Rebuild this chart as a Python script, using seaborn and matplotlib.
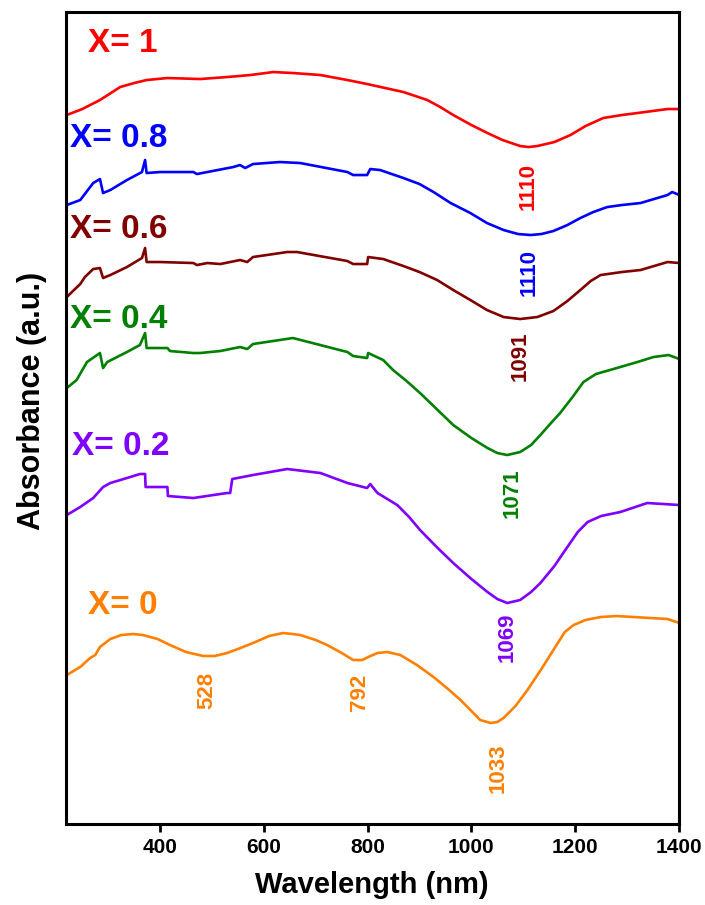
import pandas as pd
import matplotlib
matplotlib.use("Agg")
from matplotlib import pyplot as plt
import seaborn as sns

# Absorbance spectra (arbitrary, stacked units)
wl_x1 = [220, 250, 284, 323, 350, 374, 414, 477, 529, 574, 618, 656, 709, 761, 799, 869,
         915, 940, 965, 1000, 1031, 1060, 1094, 1110, 1127, 1160, 1191, 1220, 1254, 1290,
         1320, 1378, 1401]
abs_x1 = [709, 715, 724, 737, 741, 744, 746, 745, 747, 749, 752, 751, 749, 744, 740, 732,
          724, 717, 709, 699, 691, 684, 678, 677, 678, 682, 689, 698, 706, 709,
          711, 715, 715]

wl_x08 = [220, 246, 271, 284, 290, 304, 336, 365, 371, 374, 400, 464, 471, 491, 541, 554,
          564, 579, 631, 670, 761, 772, 799, 805, 824, 869, 900, 927, 960, 998, 1030,
          1062, 1090, 1114, 1135, 1158, 1185, 1210, 1235, 1262, 1290, 1326, 1378, 1387,
          1401]
abs_x08 = [619, 624, 641, 645, 631, 634, 644, 652, 664, 651, 652, 652, 650, 652, 657, 659,
           656, 660, 662, 661, 652, 649, 649, 655, 654, 646, 640, 632, 621, 611, 601,
           594, 590, 589, 590, 593, 599, 606, 612, 617, 619, 621, 629, 632,
           629]

wl_x06 = [220, 246, 255, 271, 284, 290, 304, 336, 365, 371, 374, 400, 464, 471, 491, 516,
          554, 568, 579, 645, 664, 761, 772, 799, 801, 830, 869, 900, 934, 965, 998, 1030,
          1062, 1094, 1127, 1158, 1185, 1210, 1230, 1249, 1290, 1326, 1378, 1401]
abs_x06 = [527, 540, 547, 555, 556, 546, 549, 557, 566, 576, 562, 562, 561, 559, 561, 560,
           564, 562, 567, 572, 572, 563, 560, 560, 567, 565, 558, 552, 544, 534, 524, 514,
           507, 505, 507, 513, 523, 534, 543, 549, 552, 554, 562, 561]

wl_x04 = [220, 239, 259, 284, 290, 298, 336, 361, 371, 374, 414, 419, 464, 477, 516, 554,
          568, 579, 656, 761, 772, 799, 801, 830, 849, 875, 901, 935, 965, 1000, 1031, 1050,
          1069, 1094, 1115, 1133, 1150, 1171, 1195, 1216, 1240, 1287, 1320, 1351, 1380,
          1401]
abs_x04 = [436, 444, 462, 471, 456, 462, 472, 479, 491, 476, 476, 473, 471, 471, 473, 477,
           475, 480, 486, 472, 468, 466, 471, 464, 454, 443, 431, 414, 399, 386, 376, 371,
           369, 372, 379, 389, 399, 411, 427, 442, 450, 457, 462, 467, 469,
           465]

wl_x02 = [220, 246, 271, 290, 304, 336, 361, 371, 372, 414, 415, 464, 529, 535, 539, 579,
          645, 709, 761, 799, 805, 819, 857, 880, 901, 935, 965, 1000, 1031, 1050, 1069,
          1094, 1115, 1133, 1160, 1185, 1205, 1224, 1250, 1287, 1339, 1401]
abs_x02 = [309, 317, 326, 337, 341, 346, 350, 350, 337, 337, 328, 326, 331, 331, 345, 349,
           355, 351, 341, 336, 340, 331, 319, 307, 294, 276, 261, 245, 232, 225, 221,
           224, 232, 241, 258, 277, 292, 302, 308, 312, 321, 319]

wl_x0 = [220, 246, 265, 275, 284, 304, 325, 348, 367, 395, 419, 450, 483, 505, 529, 555,
         579, 610, 637, 655, 670, 700, 722, 750, 772, 790, 801, 819, 838, 863, 895, 927,
         955, 979, 1000, 1017, 1037, 1050, 1062, 1085, 1108, 1135, 1158, 1180, 1197, 1220,
         1249, 1280, 1312, 1378, 1401]
abs_x0 = [149, 157, 166, 169, 177, 185, 189, 190, 189, 185, 179, 172, 168, 168, 171, 176,
          181, 188, 191, 190, 189, 184, 179, 171, 164, 164, 167, 171, 172, 169, 159, 147,
          135, 124, 113, 104, 101, 102, 106, 118, 134, 155, 174, 192, 199, 204,
          207, 208, 207, 205, 201]

series_names = ["X= 1", "X= 0.8", "X= 0.6", "X= 0.4", "X= 0.2", "X= 0"]
series_wl = [wl_x1, wl_x08, wl_x06, wl_x04, wl_x02, wl_x0]
series_abs = [abs_x1, abs_x08, abs_x06, abs_x04, abs_x02, abs_x0]
colors = ["#ff0000", "#0000ff", "#800000", "#008000", "#8000ff", "#ff8000"]

# series label positions (wavelength, absorbance)
name_x = [261, 226, 226, 226, 230, 261]
name_y = [781, 686, 595, 505, 378, 219]

# peak annotations
peak_text = ["1110", "1110", "1091", "1071", "1069", "528", "792", "1033"]
peak_x = [1110, 1112, 1094, 1078, 1069, 490, 784, 1052]
peak_y = [638, 552, 468, 331, 187, 134, 132, 56]
peak_col = [0, 1, 2, 3, 4, 5, 5, 5]

frames = []
for name, w, a in zip(series_names, series_wl, series_abs):
    frames.append(pd.DataFrame({"wavelength": w, "absorbance": a, "sample": name}))
df = pd.concat(frames, ignore_index=True)

sns.set_style("ticks")
plt.rcParams["font.family"] = ["Liberation Sans", "DejaVu Sans"]
plt.rcParams["font.weight"] = "bold"
plt.rcParams["text.color"] = "black"
plt.rcParams["axes.labelcolor"] = "black"
plt.rcParams["xtick.color"] = "black"

fig = plt.figure(figsize=(7.05, 9.05), dpi=100)
ax = fig.add_axes([0.0932, 0.0895, 0.8698, 0.8972])

sns.lineplot(data=df, x="wavelength", y="absorbance", hue="sample",
             palette=dict(zip(series_names, colors)), estimator=None,
             linewidth=1.9, legend=False, ax=ax)

for s, x, y, c in zip(series_names, name_x, name_y, colors):
    ax.text(x, y, s, color=c, fontsize=24, fontweight="bold", ha="left", va="center")

for s, x, y, ci in zip(peak_text, peak_x, peak_y, peak_col):
    ax.text(x, y, s, color=colors[ci], fontsize=16, fontweight="bold",
            rotation=90, ha="center", va="center")

ax.set_xlim(218, 1400)
ax.set_ylim(0, 812)
ax.set_xticks([400, 600, 800, 1000, 1200, 1400])
ax.set_yticks([])
ax.tick_params(axis="x", direction="out", length=6, width=2, labelsize=15, pad=4,
               colors="black")
for lab in ax.get_xticklabels():
    lab.set_fontweight("bold")
for sp in ax.spines.values():
    sp.set_linewidth(2.2)
    sp.set_color("black")

ax.set_xlabel("Wavelength (nm)", fontsize=21, fontweight="bold", labelpad=10)
ax.set_ylabel("Absorbance (a.u.)", fontsize=22, fontweight="bold")
ax.yaxis.set_label_coords(-0.03, 0.521)

fig.savefig("out.png", dpi=100)
